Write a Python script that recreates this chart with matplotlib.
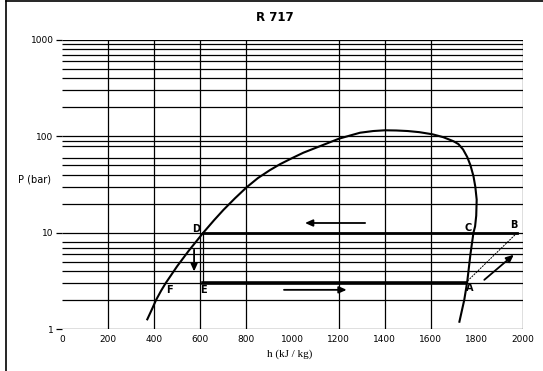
import matplotlib
matplotlib.use("Agg")
import matplotlib.pyplot as plt
from matplotlib.lines import Line2D

# courbe de saturation (liquide puis vapeur)
sat_h = [370, 390, 408, 430, 450, 500, 550, 613, 660, 700, 750, 801, 850, 902,
         946, 1000, 1047, 1119, 1202, 1250, 1293, 1350, 1401, 1450, 1500, 1550,
         1607, 1654, 1698, 1720, 1740, 1758, 1772, 1785, 1793, 1799, 1797, 1792, 1785,
         1772, 1758, 1745, 1724]
sat_p = [1.26, 1.6, 2.0, 2.5, 3.0, 4.5, 6.5, 10.0, 13.5, 17.2, 22.7, 29.6,
         36.9, 44.6, 51.4, 59.7, 67.6, 79.0, 94.6, 102.0, 109.0, 113.5, 115.5, 115.0,
         113.5, 110.5, 105.0, 98.0, 89.0, 83.0, 73.0, 61.0, 50.0, 38.6, 30.0, 22.0,
         15.0, 11.6, 10.0, 6.0, 3.1, 2.0, 1.19]

# points du cycle
cycle_names = ["A", "B", "C", "D", "E", "F"]
h_A, p_A = 1750, 3.0
h_B, p_B = 1975, 10.0
h_D, p_D = 613, 10.0
h_E, p_E = 613, 3.0

# grille telle qu'elle apparaît sur l'original
x_grid = [200, 400, 600, 800, 1200, 1400, 1600, 2000]
y_grid = [1, 2, 3, 4, 5, 6, 7, 8, 10, 20, 30, 40, 50, 60, 80, 90, 100,
          200, 300, 400, 500, 600, 700, 800, 900, 1000]
x_ticks = [0, 200, 400, 600, 800, 1000, 1200, 1400, 1600, 1800, 2000]
y_ticks = [1, 10, 100, 1000]

fig = plt.figure(figsize=(5.43, 3.71), dpi=100)
ax = fig.add_axes([0.1142, 0.1132, 0.849, 0.779])
ax.set_yscale("log")
ax.set_xlim(0, 2000)
ax.set_ylim(1, 1000)

for s in ax.spines.values():
    s.set_visible(False)

ax.hlines(y_grid, 0, 2000, color="black", lw=0.9, zorder=1)
ax.vlines(x_grid, 1, 1000, color="black", lw=0.9, zorder=1)

ax.set_xticks(x_ticks)
ax.set_xticklabels([str(v) for v in x_ticks], fontsize=6.5)
ax.set_yticks(y_ticks)
ax.set_yticklabels([str(v) for v in y_ticks], fontsize=6.5)
ax.yaxis.set_minor_locator(matplotlib.ticker.NullLocator())
ax.tick_params(axis="x", length=0, pad=4)
ax.tick_params(axis="y", length=4, width=0.9, pad=2)

# dôme de saturation
ax.plot(sat_h, sat_p, color="black", lw=1.5, zorder=3, solid_joinstyle="round")

# cycle
ax.plot([h_D, h_B], [p_D, p_B], color="black", lw=2.0, zorder=3)
ax.plot([h_E, h_A], [p_E, p_A], color="black", lw=2.6, zorder=3)
ax.plot([h_D, h_E], [p_D, p_E], color="black", lw=0.9, zorder=3)
ax.plot([h_A, h_B], [p_A, p_B], color="black", lw=0.7, ls=(0, (2, 1)), zorder=3)

# flèches
arrow = dict(arrowstyle="-|>,head_length=0.45,head_width=0.2", color="black", lw=1.3,
             shrinkA=0, shrinkB=0)
ax.annotate("", xy=(1054, 12.6), xytext=(1315, 12.6), arrowprops=arrow)
ax.annotate("", xy=(1235, 2.55), xytext=(963, 2.55), arrowprops=arrow)
ax.annotate("", xy=(573, 3.95), xytext=(573, 6.65), arrowprops=arrow)
ax.annotate("", xy=(1960, 5.9), xytext=(1832, 3.24), arrowprops=arrow)

# étiquettes des points
label_pos = {"A": (1767, 2.65), "B": (1961, 12.1), "C": (1760, 11.2),
             "D": (580, 11.0), "E": (613, 2.55), "F": (468, 2.55)}
for name in cycle_names:
    hx, py = label_pos[name]
    ax.text(hx, py, name, fontsize=7, fontweight="bold", ha="center", va="center")

fig.text(0.506, 0.954, "R 717", fontsize=8.5, fontweight="bold", ha="center", va="center")
fig.text(0.064, 0.515, "P (bar)", fontsize=7, ha="center", va="center")
fig.text(0.534, 0.046, "h (kJ / kg)", fontsize=8, family="Liberation Serif",
         ha="center", va="center")

# cadre extérieur
fig.add_artist(Line2D([0.011, 0.011], [0, 0.997], color="black", lw=1.2,
                      transform=fig.transFigure))
fig.add_artist(Line2D([0.011, 1], [0.997, 0.997], color="black", lw=1.2,
                      transform=fig.transFigure))

fig.savefig("out.png", dpi=100)
